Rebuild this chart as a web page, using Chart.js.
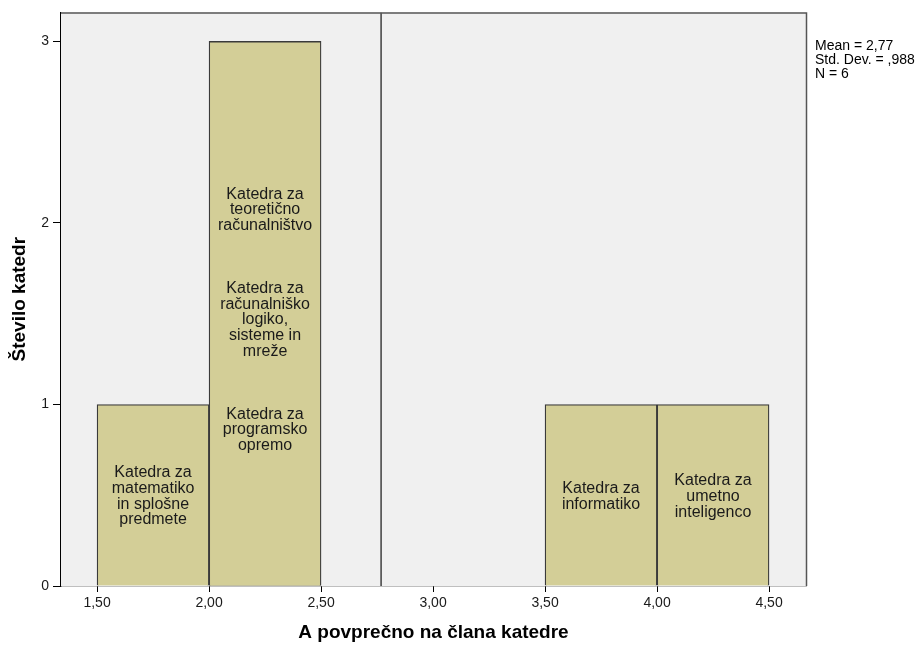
<!DOCTYPE html>
<html>
<head>
<meta charset="utf-8">
<script src="https://cdn.jsdelivr.net/npm/chart.js@4"></script>
<style>
  html, body { margin: 0; padding: 0; background: #ffffff; }
  #c { display: block; }
</style>
</head>
<body>
<canvas id="c" width="919" height="646"></canvas>
<script>
// ---- data ----
const binCenters = [1.75, 2.25, 3.75, 4.25];
const binCounts = [1, 3, 1, 1];
const binCaseLabels = [
  [["Katedra za", "matematiko", "in splošne", "predmete"]],
  [["Katedra za", "teoretično", "računalništvo"],
   ["Katedra za", "računalniško", "logiko,", "sisteme in", "mreže"],
   ["Katedra za", "programsko", "opremo"]],
  [["Katedra za", "informatiko"]],
  [["Katedra za", "umetno", "inteligenco"]]
];
const meanValue = 2.768;
const statLines = ["Mean = 2,77", "Std. Dev. = ,988", "N = 6"];
const xTickValues = [1.5, 2.0, 2.5, 3.0, 3.5, 4.0, 4.5];
const xTickLabels = ["1,50", "2,00", "2,50", "3,00", "3,50", "4,00", "4,50"];
const yTickValues = [0, 1, 2, 3];
const yTickLabels = ["0", "1", "2", "3"];
const xTitle = "A povprečno na člana katedre";
const yTitle = "Število katedr";
const xMin = 1.339, xMax = 4.665, yMin = 0, yMax = 3.16;

// ---- plugins ----
const plotFrame = {
  id: 'plotFrame',
  beforeDatasetsDraw(chart) {
    const {ctx, chartArea: a} = chart;
    ctx.save();
    ctx.fillStyle = '#f0f0f0';
    ctx.fillRect(a.left, a.top, a.right - a.left, a.bottom - a.top);
    ctx.restore();
  },
  afterDraw(chart) {
    const {ctx, chartArea: a} = chart;
    ctx.save();
    ctx.strokeStyle = '#555555';
    ctx.lineWidth = 1.5;
    ctx.beginPath();
    ctx.moveTo(a.left, a.top + 0.5);
    ctx.lineTo(a.right + 0.5, a.top + 0.5);
    ctx.lineTo(a.right + 0.5, a.bottom);
    ctx.stroke();
    ctx.restore();
  }
};

const caseLabels = {
  id: 'caseLabels',
  afterDatasetsDraw(chart) {
    const {ctx} = chart;
    const meta = chart.getDatasetMeta(0);
    const lh = 15.7;
    const slot = lh * 7;
    ctx.save();
    ctx.font = '16px "Liberation Sans", Arial, sans-serif';
    ctx.fillStyle = '#1a1a1a';
    ctx.textAlign = 'center';
    ctx.textBaseline = 'middle';
    meta.data.forEach((bar, i) => {
      const groups = binCaseLabels[i];
      const n = groups.length;
      const cy = (bar.y + bar.base) / 2 + 1.5 + (n - 1) * 2.5;
      groups.forEach((lines, g) => {
        const gc = cy + (g - (n - 1) / 2) * slot;
        lines.forEach((t, k) => {
          ctx.fillText(t, bar.x, gc + (k - (lines.length - 1) / 2) * lh);
        });
      });
    });
    ctx.restore();
  }
};

const statsText = {
  id: 'statsText',
  afterDraw(chart) {
    const {ctx, chartArea: a} = chart;
    ctx.save();
    ctx.font = '14px "Liberation Sans", Arial, sans-serif';
    ctx.fillStyle = '#000000';
    ctx.textAlign = 'left';
    ctx.textBaseline = 'middle';
    statLines.forEach((t, i) => ctx.fillText(t, a.right + 9, a.top + 34 + i * 14));
    ctx.restore();
  }
};

const barData = binCenters.map((x, i) => ({x: x, y: binCounts[i]}));
const meanData = [{x: meanValue, y: yMin}, {x: meanValue, y: yMax}];

new Chart(document.getElementById('c'), {
  type: 'bar',
  data: {
    datasets: [
      {
        type: 'bar',
        data: barData,
        backgroundColor: 'rgb(211,206,151)',
        borderColor: '#3a3a3a',
        borderWidth: 1.3,
        barPercentage: 1.0,
        categoryPercentage: 1.0,
        grouped: false,
        order: 2
      },
      {
        type: 'line',
        data: meanData,
        borderColor: '#333333',
        borderWidth: 1.4,
        pointRadius: 0,
        fill: false,
        order: 1
      }
    ]
  },
  options: {
    responsive: false,
    devicePixelRatio: 1,
    animation: false,
    layout: { padding: { left: 0, top: 12, right: 113, bottom: 0 } },
    plugins: { legend: { display: false }, tooltip: { enabled: false } },
    scales: {
      x: {
        type: 'linear',
        min: xMin, max: xMax,
        offset: false,
        afterFit(s) { s.height = 60; },
        afterBuildTicks(s) { s.ticks = xTickValues.map(v => ({value: v})); },
        grid: { display: true, drawOnChartArea: false, drawTicks: true, tickLength: 6, color: '#000', offset: false },
        border: { display: true, color: '#000', width: 1.3 },
        ticks: {
          autoSkip: false, maxRotation: 0, padding: 3,
          color: '#1a1a1a',
          font: { family: '"Liberation Sans", Arial, sans-serif', size: 14 },
          callback: (v, i) => xTickLabels[i]
        },
        title: {
          display: true, text: xTitle, color: '#000',
          font: { family: '"Liberation Sans", Arial, sans-serif', size: 19, weight: 'bold' },
          padding: { top: 0, bottom: 1.5 }
        }
      },
      y: {
        type: 'linear',
        min: yMin, max: yMax,
        afterFit(s) { s.width = 61; },
        afterBuildTicks(s) { s.ticks = yTickValues.map(v => ({value: v})); },
        grid: { display: true, drawOnChartArea: false, drawTicks: true, tickLength: 8, color: '#000' },
        border: { display: true, color: '#000', width: 1.3 },
        ticks: {
          autoSkip: false, padding: 4,
          color: '#1a1a1a',
          font: { family: '"Liberation Sans", Arial, sans-serif', size: 14 },
          callback: (v, i) => yTickLabels[i]
        },
        title: {
          display: true, text: yTitle, color: '#000',
          font: { family: '"Liberation Sans", Arial, sans-serif', size: 19, weight: 'bold' },
          padding: { top: 8, bottom: 0 }
        }
      }
    }
  },
  plugins: [plotFrame, caseLabels, statsText]
});
</script>
</body>
</html>
